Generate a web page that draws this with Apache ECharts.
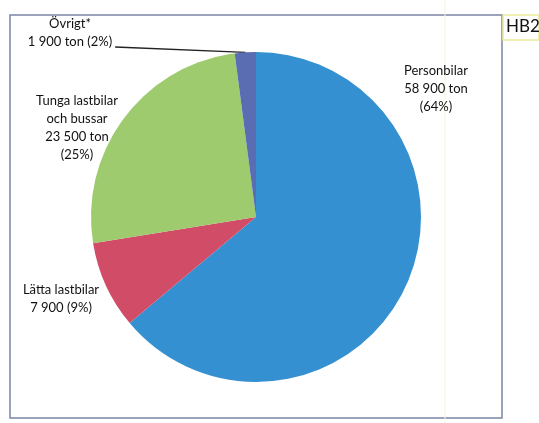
<!DOCTYPE html>
<html>
<head>
<meta charset="utf-8">
<script src="https://cdn.jsdelivr.net/npm/echarts@6/dist/echarts.min.js"></script>
<style>
  html, body { margin: 0; padding: 0; background: #fff; }
  #chart { width: 539px; height: 423px; }
</style>
</head>
<body>
<div id="chart"></div>
<script>
// fordonstyper och mängd (ton)
const categories = ["Personbilar", "Lätta lastbilar", "Tunga lastbilar och bussar", "Övrigt*"];
const values = [58900, 7900, 23500, 1900];
const labelTexts = [
  "Personbilar\n58 900 ton\n(64%)",
  "Lätta lastbilar\n7 900 (9%)",
  "Tunga lastbilar\noch bussar\n23 500 ton\n(25%)",
  "Övrigt*\n1 900 ton (2%)"
];
const colors = ["#3490d0", "#d14c66", "#9dcb6e", "#5a6cb2"];
// var etiketterna står (mitten av textblocket)
const labelPos = [[436, 89], [61, 299], [77, 128], [70, 33]];

const chart = echarts.init(document.getElementById("chart"));

chart.setOption({
  animation: false,
  graphic: [
    // ram runt diagrammet
    {
      type: "rect",
      shape: { x: 10, y: 15, width: 492, height: 403 },
      style: { fill: "none", stroke: "#7c84a6", lineWidth: 1.5 }
    },
    // svag gul rutlinje från skanningen
    {
      type: "line",
      shape: { x1: 445, y1: 0, x2: 445, y2: 423 },
      style: { stroke: "#f6f6d6", lineWidth: 1 }
    },
    {
      type: "rect",
      shape: { x: 503, y: 15, width: 36, height: 25 },
      style: { fill: "#fff", stroke: "#ecec9c", lineWidth: 1.5 }
    },
    {
      type: "text",
      left: 506,
      top: 18,
      style: { text: "HB2", font: "17px Lato", fill: "#111" }
    }
  ],
  series: [
    {
      type: "pie",
      center: [256, 217],
      radius: 165,
      startAngle: 90,
      clockwise: true,
      color: colors,
      data: categories.map((name, i) => ({
        name: name,
        value: values[i],
        labelLine: { show: i === 3 }
      })),
      label: {
        show: true,
        position: "outside",
        overflow: "none",
        formatter: (p) => labelTexts[p.dataIndex],
        fontFamily: "Lato",
        fontSize: 13,
        lineHeight: 18,
        color: "#111",
        align: "center"
      },
      labelLine: {
        length: 0,
        length2: 0,
        lineStyle: { color: "#222", width: 1.3 }
      },
      labelLayout: (params) => {
        const pos = labelPos[params.dataIndex];
        const out = {
          x: pos[0],
          y: pos[1],
          align: "center",
          verticalAlign: "middle"
        };
        // ledlinjen går från textens slut till tårtbiten
        if (params.labelLinePoints) {
          const w = params.labelRect.width;
          const h = params.labelRect.height;
          out.labelLinePoints = [
            params.labelLinePoints[0],
            [pos[0] + w / 2 + 3, pos[1] + h / 2 - 4]
          ];
        }
        return out;
      },
      emphasis: { disabled: true }
    }
  ]
});
</script>
</body>
</html>
